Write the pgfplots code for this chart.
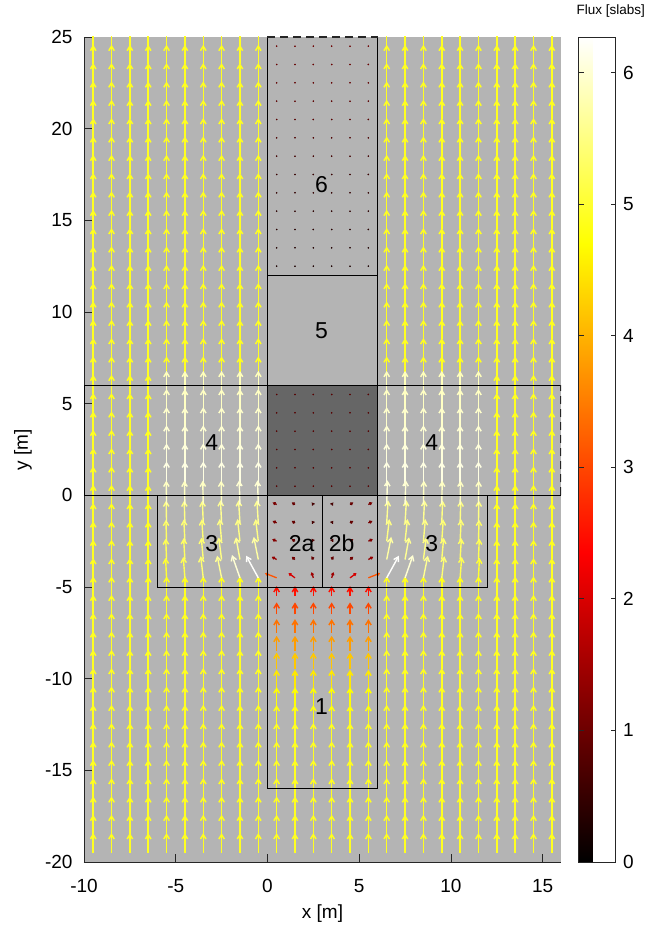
\documentclass[border=0pt]{standalone}
\usepackage{pgfplots}
\pgfplotsset{compat=1.18}
\usepackage{pgfplotstable}
\usetikzlibrary{arrows.meta}
\usepackage{fontspec}
\setmainfont{Liberation Sans}
\definecolor{bggray}{RGB}{180,180,180}
\definecolor{blockgray}{RGB}{102,102,102}
\definecolor{axgray}{RGB}{38,38,38}
\newcommand\fs{\fontsize{19bp}{22bp}\selectfont}
\newcommand\ft{\fontsize{13.5bp}{16bp}\selectfont}
\newcommand\fl{\fontsize{23bp}{27bp}\selectfont}

% flux of vertical arrows, columns c1..c26 at x=-9.5..15.5 ; -1 = no vertical arrow here
\pgfplotstableread{
y c1 c2 c3 c4 c5 c6 c7 c8 c9 c10 c11 c12 c13 c14 c15 c16 c17 c18 c19 c20 c21 c22 c23 c24 c25 c26
24.5 4.9 4.9 4.9 4.9 4.9 4.9 4.9 4.9 4.9 4.9 -1 -1 -1 -1 -1 -1 4.9 4.9 4.9 4.9 4.9 4.9 4.9 4.9 4.9 4.9
23.5 4.9 4.9 4.9 4.9 4.9 4.9 4.9 4.9 4.9 4.9 -1 -1 -1 -1 -1 -1 4.9 4.9 4.9 4.9 4.9 4.9 4.9 4.9 4.9 4.9
22.5 4.9 4.9 4.9 4.9 4.9 4.9 4.9 4.9 4.9 4.9 -1 -1 -1 -1 -1 -1 4.9 4.9 4.9 4.9 4.9 4.9 4.9 4.9 4.9 4.9
21.5 4.9 4.9 4.9 4.9 4.9 4.9 4.9 4.9 4.9 4.9 -1 -1 -1 -1 -1 -1 4.9 4.9 4.9 4.9 4.9 4.9 4.9 4.9 4.9 4.9
20.5 4.9 4.9 4.9 4.9 4.9 4.9 4.9 4.9 4.9 4.9 -1 -1 -1 -1 -1 -1 4.9 4.9 4.9 4.9 4.9 4.9 4.9 4.9 4.9 4.9
19.5 4.9 4.9 4.9 4.9 4.9 4.9 4.9 4.9 4.9 4.9 -1 -1 -1 -1 -1 -1 4.9 4.9 4.9 4.9 4.9 4.9 4.9 4.9 4.9 4.9
18.5 4.9 4.9 4.9 4.9 4.9 4.9 4.9 4.9 4.9 4.9 -1 -1 -1 -1 -1 -1 4.9 4.9 4.9 4.9 4.9 4.9 4.9 4.9 4.9 4.9
17.5 4.9 4.9 4.9 4.9 4.9 4.9 4.9 4.9 4.9 4.9 -1 -1 -1 -1 -1 -1 4.9 4.9 4.9 4.9 4.9 4.9 4.9 4.9 4.9 4.9
16.5 4.9 4.9 4.9 4.9 4.9 4.9 4.9 4.9 4.9 4.9 -1 -1 -1 -1 -1 -1 4.9 4.9 4.9 4.9 4.9 4.9 4.9 4.9 4.9 4.9
15.5 4.9 4.9 4.9 4.9 4.9 4.9 4.9 4.9 4.9 4.9 -1 -1 -1 -1 -1 -1 4.9 4.9 4.9 4.9 4.9 4.9 4.9 4.9 4.9 4.9
14.5 4.9 4.9 4.9 4.9 4.9 4.9 4.9 4.9 4.9 4.9 -1 -1 -1 -1 -1 -1 4.9 4.9 4.9 4.9 4.9 4.9 4.9 4.9 4.9 4.9
13.5 4.9 4.9 4.9 4.9 4.9 4.9 4.9 4.9 4.9 4.9 -1 -1 -1 -1 -1 -1 4.9 4.9 4.9 4.9 4.9 4.9 4.9 4.9 4.9 4.9
12.5 4.9 4.9 4.9 4.9 4.9 4.9 4.9 4.9 4.9 4.9 -1 -1 -1 -1 -1 -1 4.9 4.9 4.9 4.9 4.9 4.9 4.9 4.9 4.9 4.9
11.5 4.9 4.9 4.9 4.9 4.9 4.9 4.9 4.9 4.9 4.9 -1 -1 -1 -1 -1 -1 4.9 4.9 4.9 4.9 4.9 4.9 4.9 4.9 4.9 4.9
10.5 4.9 4.9 4.9 4.9 4.9 4.9 4.9 4.9 4.9 4.9 -1 -1 -1 -1 -1 -1 4.9 4.9 4.9 4.9 4.9 4.9 4.9 4.9 4.9 4.9
9.5 4.9 4.9 4.9 4.9 4.9 4.9 4.9 4.9 4.9 4.9 -1 -1 -1 -1 -1 -1 4.9 4.9 4.9 4.9 4.9 4.9 4.9 4.9 4.9 4.9
8.5 4.9 4.9 4.9 4.9 4.9 4.9 4.9 4.9 4.9 4.9 -1 -1 -1 -1 -1 -1 4.9 4.9 4.9 4.9 4.9 4.9 4.9 4.9 4.9 4.9
7.5 4.9 4.9 4.9 4.9 4.9 4.9 4.9 4.9 4.9 4.9 -1 -1 -1 -1 -1 -1 4.9 4.9 4.9 4.9 4.9 4.9 4.9 4.9 4.9 4.9
6.5 4.9 4.9 4.9 4.9 4.9 4.9 4.9 4.9 4.9 4.9 -1 -1 -1 -1 -1 -1 4.9 4.9 4.9 4.9 4.9 4.9 4.9 4.9 4.9 4.9
5.5 4.9 4.9 4.9 4.9 5.85 5.85 5.85 5.85 5.85 5.85 -1 -1 -1 -1 -1 -1 5.85 5.85 5.85 5.85 5.85 5.85 4.9 4.9 4.9 4.9
4.5 4.9 4.9 4.9 4.9 5.9 5.9 5.9 5.9 5.9 5.9 -1 -1 -1 -1 -1 -1 5.9 5.9 5.9 5.9 5.9 5.9 4.9 4.9 4.9 4.9
3.5 4.9 4.9 4.9 4.9 5.95 5.95 5.95 5.95 5.95 5.95 -1 -1 -1 -1 -1 -1 5.95 5.95 5.95 5.95 5.95 5.95 4.9 4.9 4.9 4.9
2.5 4.9 4.9 4.9 4.9 6.0 6.0 6.0 6.0 6.0 6.0 -1 -1 -1 -1 -1 -1 6.0 6.0 6.0 6.0 6.0 6.0 4.9 4.9 4.9 4.9
1.5 4.9 4.9 4.9 4.9 6.05 6.05 6.05 6.05 6.05 6.05 -1 -1 -1 -1 -1 -1 6.05 6.05 6.05 6.05 6.05 6.05 4.9 4.9 4.9 4.9
0.5 4.9 4.9 4.9 4.9 6.1 6.1 6.1 6.1 6.1 6.1 -1 -1 -1 -1 -1 -1 6.1 6.1 6.1 6.1 6.1 6.1 4.9 4.9 4.9 4.9
-0.5 4.9 4.9 4.9 4.9 -1 -1 -1 -1 -1 -1 -1 -1 -1 -1 -1 -1 -1 -1 -1 -1 -1 -1 4.9 4.9 4.9 4.9
-1.5 4.9 4.9 4.9 4.9 -1 -1 -1 -1 -1 -1 -1 -1 -1 -1 -1 -1 -1 -1 -1 -1 -1 -1 4.9 4.9 4.9 4.9
-2.5 4.9 4.9 4.9 4.9 -1 -1 -1 -1 -1 -1 -1 -1 -1 -1 -1 -1 -1 -1 -1 -1 -1 -1 4.9 4.9 4.9 4.9
-3.5 4.9 4.9 4.9 4.9 -1 -1 -1 -1 -1 -1 -1 -1 -1 -1 -1 -1 -1 -1 -1 -1 -1 -1 4.9 4.9 4.9 4.9
-4.5 4.9 4.9 4.9 4.9 -1 -1 -1 -1 -1 -1 -1 -1 -1 -1 -1 -1 -1 -1 -1 -1 -1 -1 4.9 4.9 4.9 4.9
-5.5 4.9 4.9 4.9 4.9 4.9 4.9 4.9 4.9 4.9 4.9 2.5 2.5 2.5 2.5 2.5 2.5 4.9 4.9 4.9 4.9 4.9 4.9 4.9 4.9 4.9 4.9
-6.5 4.9 4.9 4.9 4.9 4.9 4.9 4.9 4.9 4.9 4.9 3.0 3.0 3.0 3.0 3.0 3.0 4.9 4.9 4.9 4.9 4.9 4.9 4.9 4.9 4.9 4.9
-7.5 4.9 4.9 4.9 4.9 4.9 4.9 4.9 4.9 4.9 4.9 3.4 3.4 3.4 3.4 3.4 3.4 4.9 4.9 4.9 4.9 4.9 4.9 4.9 4.9 4.9 4.9
-8.5 4.9 4.9 4.9 4.9 4.9 4.9 4.9 4.9 4.9 4.9 3.8 3.8 3.8 3.8 3.8 3.8 4.9 4.9 4.9 4.9 4.9 4.9 4.9 4.9 4.9 4.9
-9.5 4.9 4.9 4.9 4.9 4.9 4.9 4.9 4.9 4.9 4.9 4.2 4.2 4.2 4.2 4.2 4.2 4.9 4.9 4.9 4.9 4.9 4.9 4.9 4.9 4.9 4.9
-10.5 4.9 4.9 4.9 4.9 4.9 4.9 4.9 4.9 4.9 4.9 4.5 4.5 4.5 4.5 4.5 4.5 4.9 4.9 4.9 4.9 4.9 4.9 4.9 4.9 4.9 4.9
-11.5 4.9 4.9 4.9 4.9 4.9 4.9 4.9 4.9 4.9 4.9 4.7 4.7 4.7 4.7 4.7 4.7 4.9 4.9 4.9 4.9 4.9 4.9 4.9 4.9 4.9 4.9
-12.5 4.9 4.9 4.9 4.9 4.9 4.9 4.9 4.9 4.9 4.9 4.8 4.8 4.8 4.8 4.8 4.8 4.9 4.9 4.9 4.9 4.9 4.9 4.9 4.9 4.9 4.9
-13.5 4.9 4.9 4.9 4.9 4.9 4.9 4.9 4.9 4.9 4.9 4.9 4.9 4.9 4.9 4.9 4.9 4.9 4.9 4.9 4.9 4.9 4.9 4.9 4.9 4.9 4.9
-14.5 4.9 4.9 4.9 4.9 4.9 4.9 4.9 4.9 4.9 4.9 4.9 4.9 4.9 4.9 4.9 4.9 4.9 4.9 4.9 4.9 4.9 4.9 4.9 4.9 4.9 4.9
-15.5 4.9 4.9 4.9 4.9 4.9 4.9 4.9 4.9 4.9 4.9 4.9 4.9 4.9 4.9 4.9 4.9 4.9 4.9 4.9 4.9 4.9 4.9 4.9 4.9 4.9 4.9
-16.5 4.9 4.9 4.9 4.9 4.9 4.9 4.9 4.9 4.9 4.9 4.9 4.9 4.9 4.9 4.9 4.9 4.9 4.9 4.9 4.9 4.9 4.9 4.9 4.9 4.9 4.9
-17.5 4.9 4.9 4.9 4.9 4.9 4.9 4.9 4.9 4.9 4.9 4.9 4.9 4.9 4.9 4.9 4.9 4.9 4.9 4.9 4.9 4.9 4.9 4.9 4.9 4.9 4.9
-18.5 4.9 4.9 4.9 4.9 4.9 4.9 4.9 4.9 4.9 4.9 4.9 4.9 4.9 4.9 4.9 4.9 4.9 4.9 4.9 4.9 4.9 4.9 4.9 4.9 4.9 4.9
-19.5 4.9 4.9 4.9 4.9 4.9 4.9 4.9 4.9 4.9 4.9 4.9 4.9 4.9 4.9 4.9 4.9 4.9 4.9 4.9 4.9 4.9 4.9 4.9 4.9 4.9 4.9
}\F

% near-zero flux (dots) in regions 6 and the blocked square, columns at x=0.5..5.5
\pgfplotstableread{
y d1 d2 d3 d4 d5 d6
24.5 1.0 1.0 1.0 1.0 1.0 1.0
23.5 0.95 0.95 0.95 0.95 0.95 0.95
22.5 0.9 0.9 0.9 0.9 0.9 0.9
21.5 0.85 0.85 0.85 0.85 0.85 0.85
20.5 0.8 0.8 0.8 0.8 0.8 0.8
19.5 0.7 0.7 0.7 0.7 0.7 0.7
18.5 0.6 0.6 0.6 0.6 0.6 0.6
17.5 0.5 0.5 0.5 0.5 0.5 0.5
16.5 0.45 0.45 0.45 0.45 0.45 0.45
15.5 0.4 0.4 0.4 0.4 0.4 0.4
14.5 0.35 0.35 0.35 0.35 0.35 0.35
13.5 0.3 0.3 0.3 0.3 0.3 0.3
12.5 0.25 0.25 0.25 0.25 0.25 0.25
5.5 0.8 0.8 0.8 0.8 0.8 0.8
4.5 0.8 0.8 0.8 0.8 0.8 0.8
3.5 0.8 0.8 0.8 0.8 0.8 0.8
2.5 0.8 0.8 0.8 0.8 0.8 0.8
1.5 0.8 0.8 0.8 0.8 0.8 0.8
0.5 0.8 0.8 0.8 0.8 0.8 0.8
}\D

% region 3 (tilted arrows)
\pgfplotstableread{
x y u v f
-5.5 -4.5 -0.25 4.99 5.0
-4.5 -4.5 -0.41 5.18 5.2
-3.5 -4.5 -0.64 5.36 5.4
-2.5 -4.5 -1.10 5.49 5.6
-1.5 -4.5 -1.98 5.66 6.0
-0.5 -4.5 -3.01 5.48 6.25
-5.5 -3.5 -0.21 5.20 5.2
-4.5 -3.5 -0.32 5.29 5.3
-3.5 -3.5 -0.48 5.38 5.4
-2.5 -3.5 -0.71 5.45 5.5
-1.5 -3.5 -0.99 5.51 5.6
-0.5 -3.5 -1.12 5.59 5.7
-5.5 -2.5 -0.16 5.30 5.3
-4.5 -2.5 -0.27 5.39 5.4
-3.5 -2.5 -0.38 5.39 5.4
-2.5 -2.5 -0.49 5.48 5.5
-1.5 -2.5 -0.60 5.47 5.5
-0.5 -2.5 -0.66 5.46 5.5
-5.5 -1.5 -0.11 5.50 5.5
-4.5 -1.5 -0.17 5.50 5.5
-3.5 -1.5 -0.22 5.50 5.5
-2.5 -1.5 -0.28 5.59 5.6
-1.5 -1.5 -0.34 5.59 5.6
-0.5 -1.5 -0.34 5.59 5.6
-5.5 -0.5 -0.06 5.90 5.9
-4.5 -0.5 -0.12 5.90 5.9
-3.5 -0.5 -0.12 5.90 5.9
-2.5 -0.5 -0.12 5.90 5.9
-1.5 -0.5 -0.18 6.00 6.0
-0.5 -0.5 -0.18 6.00 6.0
11.5 -4.5 0.25 4.99 5.0
10.5 -4.5 0.41 5.18 5.2
9.5 -4.5 0.64 5.36 5.4
8.5 -4.5 1.10 5.49 5.6
7.5 -4.5 1.98 5.66 6.0
6.5 -4.5 3.01 5.48 6.25
11.5 -3.5 0.21 5.20 5.2
10.5 -3.5 0.32 5.29 5.3
9.5 -3.5 0.48 5.38 5.4
8.5 -3.5 0.71 5.45 5.5
7.5 -3.5 0.99 5.51 5.6
6.5 -3.5 1.12 5.59 5.7
11.5 -2.5 0.16 5.30 5.3
10.5 -2.5 0.27 5.39 5.4
9.5 -2.5 0.38 5.39 5.4
8.5 -2.5 0.49 5.48 5.5
7.5 -2.5 0.60 5.47 5.5
6.5 -2.5 0.66 5.46 5.5
11.5 -1.5 0.11 5.50 5.5
10.5 -1.5 0.17 5.50 5.5
9.5 -1.5 0.22 5.50 5.5
8.5 -1.5 0.28 5.59 5.6
7.5 -1.5 0.34 5.59 5.6
6.5 -1.5 0.34 5.59 5.6
11.5 -0.5 0.06 5.90 5.9
10.5 -0.5 0.12 5.90 5.9
9.5 -0.5 0.12 5.90 5.9
8.5 -0.5 0.12 5.90 5.9
7.5 -0.5 0.18 6.00 6.0
6.5 -0.5 0.18 6.00 6.0
}\Tthree

% regions 2a and 2b
\pgfplotstableread{
x y u v f
0.5 -0.5 -1.0 0.5 1.12
1.5 -0.5 -0.8 0.5 0.94
2.5 -0.5 -0.4 0.5 0.64
3.5 -0.5 0.4 0.5 0.64
4.5 -0.5 0.8 0.5 0.94
5.5 -0.5 1.0 0.5 1.12
0.5 -1.5 -1.0 0.45 1.10
1.5 -1.5 -0.8 0.45 0.92
2.5 -1.5 -0.4 0.5 0.64
3.5 -1.5 0.4 0.5 0.64
4.5 -1.5 0.8 0.45 0.92
5.5 -1.5 1.0 0.45 1.10
0.5 -2.5 -1.1 0.5 1.21
1.5 -2.5 -0.8 0.5 0.94
2.5 -2.5 -0.4 0.6 0.72
3.5 -2.5 0.4 0.6 0.72
4.5 -2.5 0.8 0.5 0.94
5.5 -2.5 1.1 0.5 1.21
0.5 -3.5 -1.2 0.66 1.37
1.5 -3.5 -0.8 0.66 1.04
2.5 -3.5 -0.45 0.8 0.92
3.5 -3.5 0.45 0.8 0.92
4.5 -3.5 0.8 0.66 1.04
5.5 -3.5 1.2 0.66 1.37
0.5 -4.5 -2.9 1.15 3.12
1.5 -4.5 -1.6 1.15 1.97
2.5 -4.5 -0.45 1.4 1.47
3.5 -4.5 0.45 1.4 1.47
4.5 -4.5 1.6 1.15 1.97
5.5 -4.5 2.9 1.15 3.12
}\Ttwo

\newcommand{\qcol}[2]{%
\addplot[quiver={u=0, v=\thisrow{#2}, scale arrows=0.22,
   every arrow/.append style={draw=mapped color, line width=1.5bp, -{Straight Barb[length=4.5bp,width=5.5bp]}}},
   point meta=\thisrow{#2}]
   table[x expr={#1}, y expr={\thisrow{#2}<0 ? nan : \thisrow{y}}] {\F};}
\newcommand{\dcol}[2]{%
\addplot[scatter, only marks, mark=*, mark size=0.6bp,
   scatter/use mapped color={draw=mapped color, fill=mapped color},
   point meta=\thisrow{#2}] table[x expr={#1}, y=y] {\D};}

\begin{document}
\begin{tikzpicture}
\path[use as bounding box] (-84bp,-72bp) rectangle (565bp,862bp);
\begin{axis}[
  at={(0,0)}, anchor=south west,
  scale only axis, width=477bp, height=825bp,
  xmin=-10, xmax=16, ymin=-20, ymax=25,
  axis x line*=bottom, axis y line*=left,
  axis line style={draw=axgray, line width=0.8bp},
  tick style={draw=axgray, line width=0.8bp},
  tick align=inside, major tick length=8bp,
  xtick={-10,-5,0,5,10,15}, ytick={-20,-15,-10,-5,0,5,10,15,20,25},
  axis background/.style={fill=bggray},
  /pgf/number format/assume math mode=true,
  ticklabel style={font=\fs, text=black},
  xticklabel style={anchor=base, yshift=-30bp},
  yticklabel style={anchor=east, xshift=-8bp},
  xlabel={x [m]}, ylabel={y [m]},
  label style={font=\fs},
  xlabel style={at={(axis description cs:0.5,-0.0679)}, anchor=base},
  ylabel style={at={(axis description cs:-0.1174,0.5)}, anchor=base},
  colormap={mhot}{rgb255(0cm)=(0,0,0); rgb255(3cm)=(255,0,0); rgb255(6cm)=(255,255,0); rgb255(8cm)=(255,255,255)},
  point meta min=0, point meta max=6.27,
  colorbar,
  colorbar style={
    at={(parent axis.north east)}, anchor=north west, xshift=9bp,
    scale only axis, width=37bp, height=825bp,
    ytick={0,1,2,3,4,5,6},
    axis line style={draw=axgray, line width=0.8bp},
    tick style={draw=axgray, line width=0.8bp},
    tick align=inside, major tick length=5bp,
    /pgf/number format/assume math mode=true,
    yticklabel style={font=\fs, xshift=4bp},
    title={Flux [slabs]},
    title style={font=\ft, at={(0,1)}, anchor=base west, xshift=-2bp, yshift=17bp, inner sep=0pt},
  },
]
% blocked square
\addplot[draw=black, fill=blockgray, line width=0.9bp] coordinates {(0,0) (6,0) (6,6) (0,6)} --cycle;

% vertical arrows, one column each
\qcol{-9.5}{c1}\qcol{-8.5}{c2}\qcol{-7.5}{c3}\qcol{-6.5}{c4}\qcol{-5.5}{c5}
\qcol{-4.5}{c6}\qcol{-3.5}{c7}\qcol{-2.5}{c8}\qcol{-1.5}{c9}\qcol{-0.5}{c10}
\qcol{0.5}{c11}\qcol{1.5}{c12}\qcol{2.5}{c13}\qcol{3.5}{c14}\qcol{4.5}{c15}
\qcol{5.5}{c16}\qcol{6.5}{c17}\qcol{7.5}{c18}\qcol{8.5}{c19}\qcol{9.5}{c20}
\qcol{10.5}{c21}\qcol{11.5}{c22}\qcol{12.5}{c23}\qcol{13.5}{c24}\qcol{14.5}{c25}
\qcol{15.5}{c26}

% tilted arrows region 3
\addplot[quiver={u=\thisrow{u}, v=\thisrow{v}, scale arrows=0.22,
   every arrow/.append style={draw=mapped color, line width=1.4bp, -{Straight Barb[length=4.5bp,width=5.5bp]}}},
   point meta=\thisrow{f}] table {\Tthree};
% regions 2a, 2b
\addplot[quiver={u=\thisrow{u}, v=\thisrow{v}, scale arrows=0.22,
   every arrow/.append style={draw=mapped color, line width=1.3bp, -{Straight Barb[length=1.8bp,width=2.5bp]}}},
   point meta=\thisrow{f}] table {\Ttwo};

% dots
\dcol{0.5}{d1}\dcol{1.5}{d2}\dcol{2.5}{d3}\dcol{3.5}{d4}\dcol{4.5}{d5}\dcol{5.5}{d6}

% region outlines
\addplot[black, line width=0.9bp] coordinates {(0,-5) (0,-16) (6,-16) (6,-5)};
\addplot[black, line width=0.9bp] coordinates {(0,0) (0,-5) (6,-5) (6,0)};
\addplot[black, line width=0.9bp] coordinates {(3,-5) (3,0)};
\addplot[black, line width=0.9bp] coordinates {(-6,0) (-6,-5) (12,-5) (12,0)};
\addplot[black, line width=0.9bp] coordinates {(16,0) (-10,0) (-10,6) (16,6)};
\addplot[axgray, line width=2.6bp, dash pattern=on 8bp off 5bp] coordinates {(16,0) (16,6)};
\addplot[black, line width=0.9bp] coordinates {(0,6) (0,12) (6,12) (6,6)};
\addplot[black, line width=0.9bp] coordinates {(6,25) (6,12) (0,12) (0,25)};
\addplot[axgray, line width=2.6bp, dash pattern=on 8bp off 5bp] coordinates {(0,25) (6,25)};

% region labels
\node[font=\fl] at (axis cs:2.95,16.93) {6};
\node[font=\fl] at (axis cs:2.95,8.96) {5};
\node[font=\fl] at (axis cs:-3.04,2.85) {4};
\node[font=\fl] at (axis cs:8.95,2.85) {4};
\node[font=\fl] at (axis cs:-3.04,-2.62) {3};
\node[font=\fl] at (axis cs:8.95,-2.62) {3};
\node[font=\fl] at (axis cs:1.86,-2.62) {2a};
\node[font=\fl] at (axis cs:4.04,-2.62) {2b};
\node[font=\fl] at (axis cs:2.95,-11.53) {1};
\end{axis}
\end{tikzpicture}
\end{document}
